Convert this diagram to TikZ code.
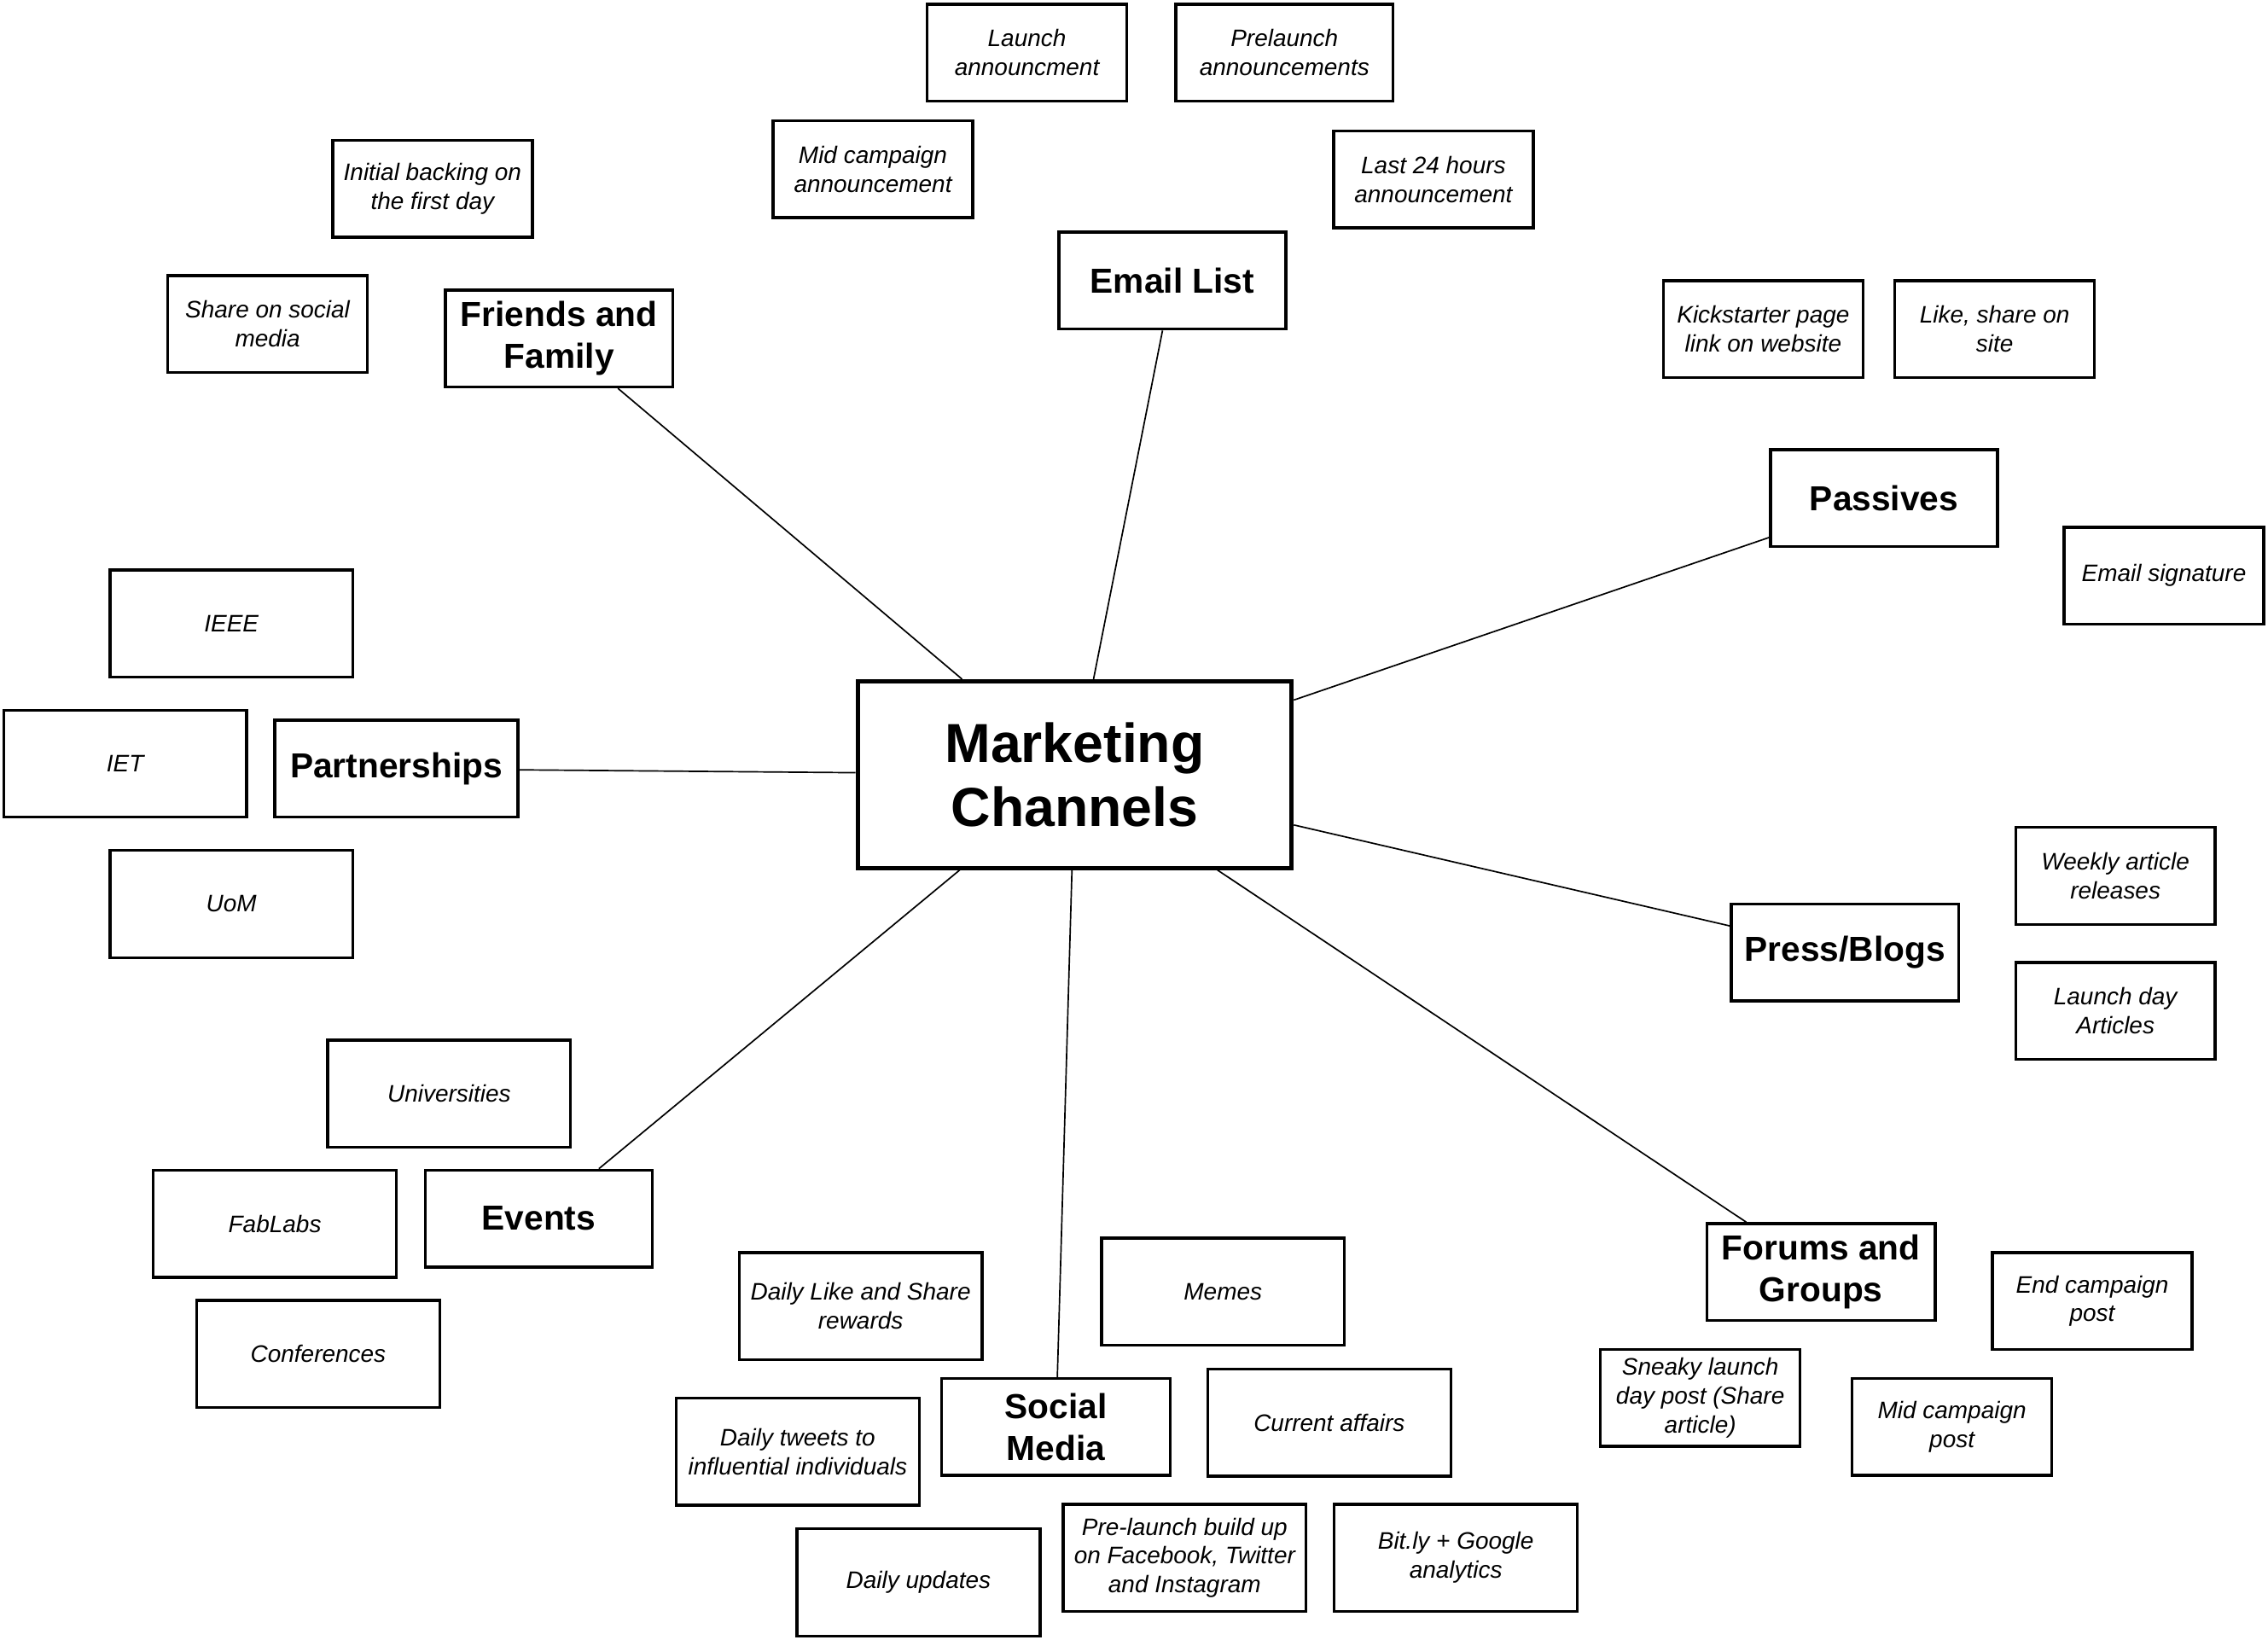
\documentclass[tikz,border=0pt]{standalone}
\usepackage{fontspec}
\setmainfont{Liberation Sans}
\begin{document}
\begin{tikzpicture}[x=1pt,y=-1pt,
  leaf/.style={draw,line width=2pt,rectangle,inner sep=0pt,align=center,
    minimum width=138pt,minimum height=67pt,font=\fontsize{16.5}{20}\selectfont\itshape},
  wideleaf/.style={leaf,minimum width=168pt,minimum height=74pt},
  topic/.style={draw,line width=2pt,rectangle,inner sep=0pt,align=center,
    minimum width=157pt,minimum height=67pt,font=\fontsize{24}{29}\selectfont\bfseries},
  hub/.style={draw,line width=3pt,rectangle,inner sep=0pt,align=center,
    minimum width=300pt,minimum height=129pt,font=\fontsize{38}{44}\selectfont\bfseries},
  link/.style={line width=1pt}]
\useasboundingbox (0,0) rectangle (1568,1133.8);
% hub and topics
\node[hub] (mc) at (743,535.5) {Marketing\\Channels};
\node[topic] (email) at (810.5,194) {Email List};
\node[topic] (ff) at (386.5,234) {Friends and\\Family};
\node[topic] (pass) at (1302.5,344.5) {Passives};
\node[topic,minimum width=168pt] (part) at (274,531.5) {Partnerships};
\node[topic] (press) at (1275.5,658.5) {Press/Blogs};
\node[topic] (events) at (372.5,842.5) {Events};
\node[topic,minimum width=158pt] (social) at (730,986.5) {Social\\Media};
\node[topic,minimum width=158pt] (forums) at (1259,879.5) {Forums and\\Groups};
% leaves
\node[leaf] (launch) at (710,36.5) {Launch\\announcment};
\node[leaf,minimum width=150pt] (prelaunch) at (888,36.5) {Prelaunch\\announcements};
\node[leaf] (midcamp) at (603.5,117) {Mid campaign\\announcement};
\node[leaf] (last24) at (991,124) {Last 24 hours\\announcement};
\node[leaf] (initial) at (299,130.5) {Initial backing on\\the first day};
\node[leaf] (shareon) at (185,224) {Share on social\\media};
\node[leaf] (kick) at (1219,227.5) {Kickstarter page\\link on website};
\node[leaf] (like) at (1379,227.5) {Like, share on\\site};
\node[leaf] (emailsig) at (1496,398) {Email signature};
\node[wideleaf] (ieee) at (160,431) {IEEE};
\node[wideleaf] (iet) at (86.5,528) {IET};
\node[wideleaf] (uom) at (160,625) {UoM};
\node[leaf] (weekly) at (1462.5,605.5) {Weekly article\\releases};
\node[leaf] (launchday) at (1462.5,699) {Launch day\\Articles};
\node[wideleaf] (univ) at (310.5,756) {Universities};
\node[wideleaf] (fablabs) at (190,846) {FabLabs};
\node[wideleaf] (conf) at (220,936) {Conferences};
\node[wideleaf] (dailylike) at (595,903) {Daily Like and Share\\rewards};
\node[wideleaf] (memes) at (845.5,893) {Memes};
\node[wideleaf] (tweets) at (551.5,1003.5) {Daily tweets to\\influential individuals};
\node[wideleaf] (current) at (919,983.5) {Current affairs};
\node[wideleaf] (dailyupd) at (635,1094) {Daily updates};
\node[wideleaf] (prebuild) at (819,1077) {Pre-launch build up\\on Facebook, Twitter\\and Instagram};
\node[wideleaf] (bitly) at (1006.5,1077) {Bit.ly + Google\\analytics};
\node[leaf] (endcamp) at (1446.5,899.5) {End campaign\\post};
\node[leaf] (sneaky) at (1175.5,966.5) {Sneaky launch\\day post (Share\\article)};
\node[leaf] (midpost) at (1349.5,986.5) {Mid campaign\\post};
% connectors
\draw[link] (mc) -- (ff);
\draw[link] (mc) -- (email);
\draw[link] (mc) -- (pass);
\draw[link] (mc) -- (part);
\draw[link] (mc) -- (press);
\draw[link] (mc) -- (forums);
\draw[link] (mc) -- (social);
\draw[link] (mc) -- (events);
\end{tikzpicture}
\end{document}
